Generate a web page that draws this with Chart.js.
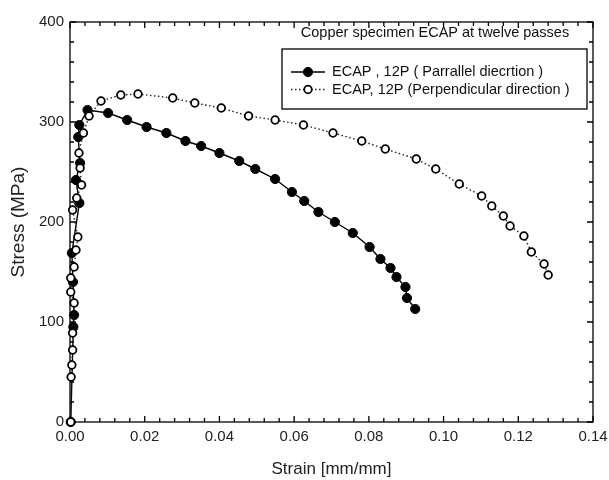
<!DOCTYPE html>
<html>
<head>
<meta charset="utf-8">
<script src="https://cdn.jsdelivr.net/npm/chart.js@4.4.1/dist/chart.umd.min.js"></script>
<style>
  html, body { margin: 0; padding: 0; background: #fff; }
</style>
</head>
<body>
<canvas id="chart" width="609" height="480"></canvas>
<script>
// data
const chartTitle = 'Copper specimen ECAP at twelve passes';
const seriesNames = ['ECAP , 12P ( Parrallel diecrtion )', 'ECAP, 12P (Perpendicular direction )'];

const strainPar = [0.0002, 0.0009, 0.0011, 0.0008, 0.0005, 0.0025, 0.0016, 0.0027, 0.0022, 0.0025, 0.0047,
  0.0102, 0.0153, 0.0205, 0.0258, 0.0309, 0.0351, 0.0400, 0.0453, 0.0496, 0.0549, 0.0594, 0.0627,
  0.0665, 0.0709, 0.0757, 0.0802, 0.0831, 0.0858, 0.0874, 0.0898, 0.0902, 0.0924];
const stressPar = [0, 95, 107, 140, 169, 219, 242, 259, 285, 297, 312,
  309, 302, 295, 289, 281, 276, 269, 261, 253, 243, 230, 221,
  210, 200, 189, 175, 163, 154, 145, 135, 124, 113];

const strainPerp = [0.0002, 0.0003, 0.0005, 0.0007, 0.0007, 0.0011, 0.0002, 0.0002, 0.0011, 0.0016, 0.0021,
  0.0007, 0.0018, 0.0031, 0.0027, 0.0024, 0.0036, 0.0051,
  0.0083, 0.0136, 0.0182, 0.0275, 0.0334, 0.0405, 0.0478, 0.0549, 0.0625, 0.0704, 0.0781, 0.0844,
  0.0927, 0.0979, 0.1042, 0.1102, 0.1129, 0.1160, 0.1178, 0.1215, 0.1235, 0.1269, 0.1280];
const stressPerp = [0, 45, 57, 72, 89, 119, 130, 144, 155, 172, 185,
  212, 224, 237, 254, 269, 289, 306,
  321, 327, 328, 324, 319, 314, 306, 302, 297, 289, 281, 273,
  263, 253, 238, 226, 216, 206, 196, 186, 170, 158, 147];

const xTicks = [0, 0.14, 0.02];   // min, max, step
const yTicks = [0, 400, 100];

function toPoints(xs, ys) {
  return xs.map((v, i) => ({ x: v, y: ys[i] }));
}

Chart.defaults.font.family = '"Liberation Sans", Arial, sans-serif';
Chart.defaults.color = '#222';

// box round the plot + inward ticks on all four sides
const frameTicks = {
  id: 'frameTicks',
  beforeDatasetsDraw(chart) {
    const { ctx, chartArea: a, scales: { x, y } } = chart;
    ctx.save();
    ctx.strokeStyle = '#000';
    ctx.lineWidth = 1.3;
    ctx.strokeRect(a.left, a.top, a.right - a.left, a.bottom - a.top);
    ctx.beginPath();
    const xMinor = xTicks[2] / 5;
    const nx = Math.round((xTicks[1] - xTicks[0]) / xMinor);
    for (let i = 0; i <= nx; i++) {
      const px = x.getPixelForValue(xTicks[0] + i * xMinor);
      const len = i % 5 === 0 ? 6 : 4;
      ctx.moveTo(px, a.bottom); ctx.lineTo(px, a.bottom - len);
      ctx.moveTo(px, a.top); ctx.lineTo(px, a.top + len);
    }
    const yMinor = yTicks[2] / 5;
    const ny = Math.round((yTicks[1] - yTicks[0]) / yMinor);
    for (let i = 0; i <= ny; i++) {
      const py = y.getPixelForValue(yTicks[0] + i * yMinor);
      const len = i % 5 === 0 ? 6 : 4;
      ctx.moveTo(a.left, py); ctx.lineTo(a.left + len, py);
      ctx.moveTo(a.right, py); ctx.lineTo(a.right - len, py);
    }
    ctx.stroke();
    ctx.restore();
  }
};

// title text and boxed legend inside the plot
const insideLegend = {
  id: 'insideLegend',
  afterDraw(chart) {
    const { ctx, chartArea: a } = chart;
    ctx.save();
    ctx.font = '14.5px "Liberation Sans", Arial, sans-serif';
    ctx.fillStyle = '#111';
    ctx.textAlign = 'center';
    ctx.textBaseline = 'middle';
    ctx.fillText(chartTitle, a.right - 158, a.top + 11);

    const bx = a.right - 311, by = a.top + 27;
    ctx.fillStyle = '#fff';
    ctx.fillRect(bx, by, 305, 60);
    ctx.strokeStyle = '#000';
    ctx.lineWidth = 1.3;
    ctx.strokeRect(bx, by, 305, 60);

    chart.data.datasets.forEach((ds, i) => {
      const ry = by + 23 + i * 17.5;
      ctx.beginPath();
      ctx.setLineDash(ds.borderDash || []);
      ctx.lineWidth = ds.borderWidth;
      ctx.strokeStyle = ds.borderColor;
      ctx.moveTo(bx + 9, ry);
      ctx.lineTo(bx + 43, ry);
      ctx.stroke();
      ctx.setLineDash([]);
      ctx.beginPath();
      ctx.arc(bx + 26, ry, ds.pointRadius, 0, Math.PI * 2);
      ctx.fillStyle = ds.pointBackgroundColor;
      ctx.fill();
      ctx.lineWidth = ds.pointBorderWidth;
      ctx.strokeStyle = ds.pointBorderColor;
      ctx.stroke();
      ctx.fillStyle = '#111';
      ctx.textAlign = 'left';
      ctx.fillText(ds.label, bx + 50, ry);
    });
    ctx.restore();
  }
};

new Chart(document.getElementById('chart'), {
  type: 'scatter',
  data: {
    datasets: [
      {
        label: seriesNames[0],
        data: toPoints(strainPar, stressPar),
        showLine: true,
        borderColor: '#000',
        borderWidth: 1.4,
        pointRadius: 4.6,
        pointBackgroundColor: '#000',
        pointBorderColor: '#000',
        pointBorderWidth: 1,
        clip: false,
        order: 2
      },
      {
        label: seriesNames[1],
        data: toPoints(strainPerp, stressPerp),
        showLine: true,
        borderColor: '#222',
        borderWidth: 1.4,
        borderDash: [1.5, 2.5],
        pointRadius: 3.8,
        pointBackgroundColor: '#fff',
        pointBorderColor: '#000',
        pointBorderWidth: 1.8,
        clip: false,
        order: 1
      }
    ]
  },
  options: {
    responsive: false,
    animation: false,
    devicePixelRatio: 1,
    layout: { padding: { left: 0, right: 16, top: 22, bottom: 0 } },
    plugins: {
      legend: { display: false },
      tooltip: { enabled: false }
    },
    scales: {
      x: {
        type: 'linear',
        min: xTicks[0],
        max: xTicks[1],
        grid: { display: false, drawTicks: false },
        border: { display: false },
        ticks: {
          stepSize: xTicks[2],
          padding: 6,
          font: { size: 15 },
          callback: v => Number(v).toFixed(2)
        },
        title: {
          display: true,
          text: 'Strain [mm/mm]',
          font: { size: 17 },
          padding: { top: 0, bottom: 0 }
        },
        afterFit: s => { s.height = 58; s.paddingLeft = 0; s.paddingRight = 0; }
      },
      y: {
        type: 'linear',
        min: yTicks[0],
        max: yTicks[1],
        grid: { display: false, drawTicks: false },
        border: { display: false },
        ticks: {
          stepSize: yTicks[2],
          padding: 6,
          font: { size: 15 }
        },
        title: {
          display: true,
          text: 'Stress (MPa)',
          font: { size: 19 },
          padding: { top: 7, bottom: 0 }
        },
        afterFit: s => { s.width = 70; s.paddingTop = 0; s.paddingBottom = 0; }
      }
    }
  },
  plugins: [frameTicks, insideLegend]
});
</script>
</body>
</html>
